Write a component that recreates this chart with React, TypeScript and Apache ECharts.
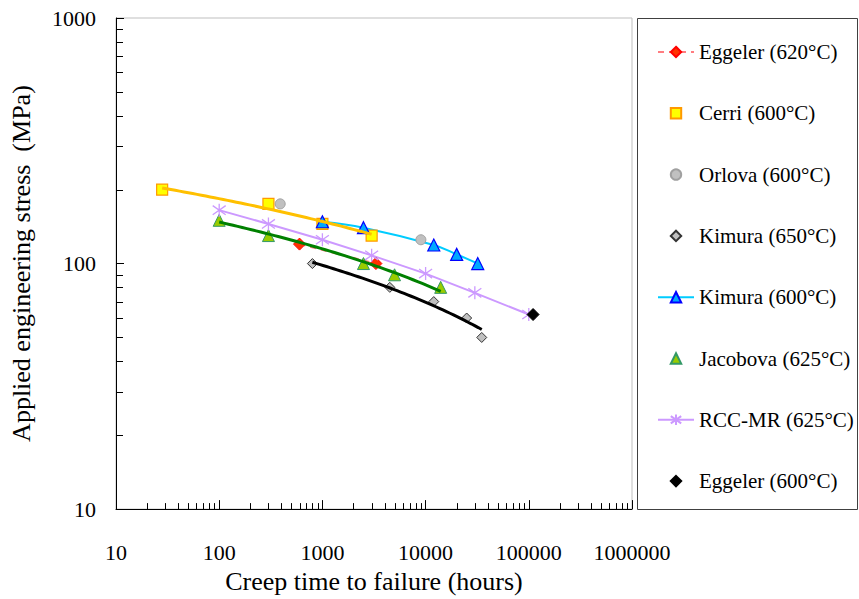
import React, { useEffect, useRef } from 'react';
import * as echarts from 'echarts';

// ---- Data (hours, MPa) ----
const eggeler620Hours = [600, 3300];
const eggeler620Stress = [120, 100];
const cerriHours = [28, 300, 1000, 3000];
const cerriStress = [200, 175, 145, 130];
const orlovaHours = [390, 9000];
const orlovaStress = [175, 125];
const kimura650Hours = [800, 4500, 12000, 25000, 35000];
const kimura650Stress = [100, 80, 70, 60, 50];
const kimura600Hours = [1000, 2500, 12000, 20000, 32000];
const kimura600Stress = [148, 140, 119, 109, 100];
const jacobovaHours = [100, 300, 2500, 5000, 14000];
const jacobovaStress = [150, 130, 100, 90, 80];
const rccHours = [100, 300, 1000, 3000, 10000, 30000, 100000];
const rccStress = [165, 145, 125, 108, 91, 76, 62];
const eggeler600Hours = [110000];
const eggeler600Stress = [62];

const xTicks = [10, 100, 1000, 10000, 100000, 1000000];
const yTicks = [10, 100, 1000];
const minorMultipliers = [2, 3, 4, 5, 6, 7, 8, 9];

const seriesNames = [
  'Eggeler (620°C)',
  'Cerri (600°C)',
  'Orlova (600°C)',
  'Kimura (650°C)',
  'Kimura (600°C)',
  'Jacobova (625°C)',
  'RCC-MR (625°C)',
  'Eggeler (600°C)',
];

const FONT = 'Liberation Serif';

const pairs = (xs: number[], ys: number[]) => xs.map((x, i) => [x, ys[i]]);

// Excel-style logarithmic trendline: y = a + b ln(x), fitted by least squares
function logTrend(xs: number[], ys: number[], n = 48) {
  const lx = xs.map((x) => Math.log(x));
  const mx = lx.reduce((s, v) => s + v, 0) / lx.length;
  const my = ys.reduce((s, v) => s + v, 0) / ys.length;
  let sxy = 0;
  let sxx = 0;
  lx.forEach((l, i) => {
    sxy += (l - mx) * (ys[i] - my);
    sxx += (l - mx) * (l - mx);
  });
  const b = sxy / sxx;
  const a = my - b * mx;
  const lo = Math.min(...lx);
  const hi = Math.max(...lx);
  const pts: number[][] = [];
  for (let i = 0; i <= n; i++) {
    const l = lo + ((hi - lo) * i) / n;
    pts.push([Math.exp(l), a + b * l]);
  }
  return pts;
}

const xMinor = xTicks.slice(0, -1).flatMap((d) => minorMultipliers.map((m) => d * m));
const yMinor = yTicks.slice(0, -1).flatMap((d) => minorMultipliers.map((m) => d * m));

const asterisk = 'path://M5,0L5,10M1.5,1.5L8.5,8.5M1.5,8.5L8.5,1.5';

export default function App() {
  const ref = useRef<HTMLDivElement>(null);

  useEffect(() => {
    document.body.style.margin = '0';
    if (!ref.current) return;
    const chart = echarts.init(ref.current, undefined, { renderer: 'svg' });

    const markerOnly = { lineStyle: { opacity: 0, width: 0 } };
    const noEmph = { emphasis: { disabled: true } };

    const option: any = {
      animation: false,
      backgroundColor: '#ffffff',
      textStyle: { fontFamily: FONT },
      grid: {
        left: 116,
        right: 227,
        top: 18,
        bottom: 89,
        show: true,
        borderColor: '#bfbfbf',
        borderWidth: 1,
        backgroundColor: 'transparent',
      },
      xAxis: {
        type: 'log',
        logBase: 10,
        min: 10,
        max: 1000000,
        name: 'Creep time to failure (hours)',
        nameLocation: 'middle',
        nameGap: 55,
        nameTextStyle: { fontFamily: FONT, fontSize: 26, color: '#000' },
        axisLine: { show: true, lineStyle: { color: '#000', width: 1 } },
        axisTick: { show: true, inside: true, length: 9, lineStyle: { color: '#000' } },
        splitLine: { show: false },
        axisLabel: {
          margin: 32,
          fontFamily: FONT,
          fontSize: 22,
          color: '#000',
          formatter: (v: number) => String(Math.round(v)),
        },
      },
      yAxis: {
        type: 'log',
        logBase: 10,
        min: 10,
        max: 1000,
        name: 'Applied engineering stress  (MPa)',
        nameLocation: 'middle',
        nameRotate: 90,
        nameGap: 82,
        nameTextStyle: { fontFamily: FONT, fontSize: 26, color: '#000' },
        axisLine: { show: true, lineStyle: { color: '#000', width: 1 } },
        axisTick: { show: true, inside: true, length: 8, lineStyle: { color: '#000' } },
        splitLine: { show: false },
        axisLabel: {
          margin: 20,
          fontFamily: FONT,
          fontSize: 22,
          color: '#000',
          formatter: (v: number) => String(Math.round(v)),
        },
      },
      legend: {
        orient: 'vertical',
        left: 657,
        top: 41,
        padding: 0,
        itemWidth: 36,
        itemHeight: 13,
        itemGap: 39.3,
        data: seriesNames,
        selectedMode: false,
        textStyle: { fontFamily: FONT, fontSize: 21, color: '#000', lineHeight: 22 },
      },
      graphic: [
        {
          type: 'rect',
          shape: { x: 637.5, y: 18.5, width: 220, height: 491 },
          style: { fill: 'none', stroke: '#404040', lineWidth: 1 },
          silent: true,
        },
      ],
      series: [
        {
          name: seriesNames[0],
          type: 'line',
          data: pairs(eggeler620Hours, eggeler620Stress),
          symbol: 'diamond',
          symbolSize: 12,
          itemStyle: { color: '#ff3300', borderColor: '#ff0000', borderWidth: 1 },
          lineStyle: { color: '#ff7c80', width: 2, type: [6, 5] },
          z: 3,
          ...noEmph,
        },
        {
          name: seriesNames[1],
          type: 'line',
          data: pairs(cerriHours, cerriStress),
          symbol: 'rect',
          symbolSize: 11,
          itemStyle: { color: '#ffff00', borderColor: '#ff9900', borderWidth: 1.2 },
          ...markerOnly,
          z: 3,
          ...noEmph,
        },
        {
          name: seriesNames[2],
          type: 'line',
          data: pairs(orlovaHours, orlovaStress),
          symbol: 'circle',
          symbolSize: 10,
          itemStyle: { color: '#c0c0c0', borderColor: '#a0a0a0', borderWidth: 1 },
          ...markerOnly,
          z: 4,
          ...noEmph,
        },
        {
          name: seriesNames[3],
          type: 'line',
          data: pairs(kimura650Hours, kimura650Stress),
          symbol: 'diamond',
          symbolSize: 10,
          itemStyle: { color: '#c0c0c0', borderColor: '#333333', borderWidth: 1 },
          ...markerOnly,
          z: 3,
          ...noEmph,
        },
        {
          name: seriesNames[4],
          type: 'line',
          data: pairs(kimura600Hours, kimura600Stress),
          smooth: 0.4,
          symbol: 'triangle',
          symbolSize: 12,
          itemStyle: { color: '#00a8ff', borderColor: '#0000ff', borderWidth: 1.2 },
          lineStyle: { color: '#00ccff', width: 2 },
          z: 3,
          ...noEmph,
        },
        {
          name: seriesNames[5],
          type: 'line',
          data: pairs(jacobovaHours, jacobovaStress),
          symbol: 'triangle',
          symbolSize: 12,
          itemStyle: { color: '#99cc00', borderColor: '#339966', borderWidth: 1 },
          ...markerOnly,
          z: 3,
          ...noEmph,
        },
        {
          name: seriesNames[6],
          type: 'line',
          data: pairs(rccHours, rccStress),
          symbol: asterisk,
          symbolSize: 13,
          itemStyle: { color: '#cc99ff', borderColor: '#cc99ff', borderWidth: 1.3 },
          lineStyle: { color: '#cc99ff', width: 2 },
          z: 3,
          ...noEmph,
        },
        {
          name: seriesNames[7],
          type: 'line',
          data: pairs(eggeler600Hours, eggeler600Stress),
          symbol: 'diamond',
          symbolSize: 12,
          itemStyle: { color: '#000000', borderColor: '#000000', borderWidth: 1 },
          ...markerOnly,
          z: 4,
          ...noEmph,
        },
        // trendlines
        {
          name: 'Cerri trend',
          type: 'line',
          data: logTrend(cerriHours, cerriStress),
          showSymbol: false,
          symbol: 'none',
          lineStyle: { color: '#ffc000', width: 3 },
          z: 5,
          silent: true,
          ...noEmph,
        },
        {
          name: 'Jacobova trend',
          type: 'line',
          data: logTrend(jacobovaHours, jacobovaStress),
          showSymbol: false,
          symbol: 'none',
          lineStyle: { color: '#008000', width: 3 },
          z: 5,
          silent: true,
          ...noEmph,
        },
        {
          name: 'Kimura 650 trend',
          type: 'line',
          data: logTrend(kimura650Hours, kimura650Stress),
          showSymbol: false,
          symbol: 'none',
          lineStyle: { color: '#000000', width: 3 },
          z: 5,
          silent: true,
          ...noEmph,
        },
        // minor ticks
        {
          type: 'custom',
          silent: true,
          clip: false,
          z: 10,
          data: xMinor.map((v) => [v, yTicks[0]]),
          renderItem: (_p: any, api: any) => {
            const pt = api.coord([api.value(0), api.value(1)]);
            const x = Math.round(pt[0]) + 0.5;
            return {
              type: 'line',
              shape: { x1: x, y1: pt[1], x2: x, y2: pt[1] - 6 },
              style: { stroke: '#000', lineWidth: 1 },
            };
          },
        },
        {
          type: 'custom',
          silent: true,
          clip: false,
          z: 10,
          data: yMinor.map((v) => [xTicks[0], v]),
          renderItem: (_p: any, api: any) => {
            const pt = api.coord([api.value(0), api.value(1)]);
            const y = Math.round(pt[1]) + 0.5;
            return {
              type: 'line',
              shape: { x1: pt[0], y1: y, x2: pt[0] + 7, y2: y },
              style: { stroke: '#000', lineWidth: 1 },
            };
          },
        },
      ],
    };

    chart.setOption(option);
    return () => chart.dispose();
  }, []);

  return <div ref={ref} style={{ width: 859, height: 599 }} />;
}
